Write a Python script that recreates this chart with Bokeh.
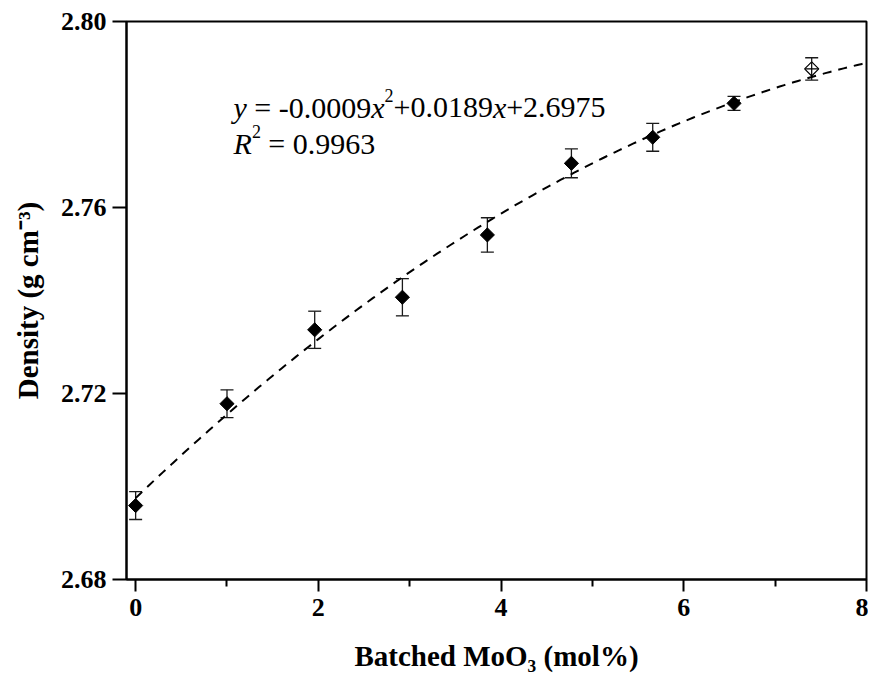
import numpy as np
from bokeh.plotting import figure
from bokeh.models import (ColumnDataSource, Whisker, TeeHead, FixedTicker,
                          NumeralTickFormatter, Label, Range1d)
from bokeh.embed import file_html
from bokeh.resources import INLINE

# ---- data ----
mo_batched = [0.00, 1.00, 1.96, 2.92, 3.85, 4.77, 5.66, 6.55, 7.40]
density = [2.6959, 2.7178, 2.7337, 2.7407, 2.7541, 2.7695, 2.7751, 2.7824, 2.7898]
density_err = [0.0030, 0.0030, 0.0040, 0.0040, 0.0037, 0.0031, 0.0030, 0.0015, 0.0024]
open_point = [False, False, False, False, False, False, False, False, True]

# fit shown on the chart
fit_a, fit_b, fit_c = -0.0009, 0.0189, 2.6975
x_ticks = [0, 2, 4, 6, 8]
x_minor = [1, 3, 5, 7]
y_ticks = [2.68, 2.72, 2.76, 2.80]

XMIN, XMAX = -0.1, 8.0
YMIN, YMAX = 2.68, 2.80

# pixel layout of the frame
FL, FR, FT, FB = 126, 866, 21, 579
W, H = 868, 680

def dx(px):
    return XMIN + (px - FL) / (FR - FL) * (XMAX - XMIN)

def dy(py):
    return YMAX - (py - FT) / (FB - FT) * (YMAX - YMIN)

p = figure(width=W, height=H, output_backend="svg", toolbar_location=None,
           x_range=Range1d(XMIN, XMAX), y_range=Range1d(YMIN, YMAX),
           min_border_left=FL, min_border_right=W - FR,
           min_border_top=FT, min_border_bottom=H - FB)
p.background_fill_color = "white"
p.border_fill_color = "white"
p.grid.visible = False
p.outline_line_color = "black"
p.outline_line_width = 2

serif = "Liberation Serif"
for ax in (p.xaxis[0], p.yaxis[0]):
    ax.axis_line_width = 2
    ax.major_tick_line_width = 2
    ax.minor_tick_line_width = 2
    ax.major_tick_in = 0
    ax.minor_tick_in = 0
    ax.major_label_text_font = serif
    ax.major_label_text_font_style = "bold"
    ax.major_label_text_font_size = "26px"
    ax.major_label_text_color = "black"
    ax.axis_label_text_font = serif
    ax.axis_label_text_font_style = "bold"
    ax.axis_label_text_font_size = "29px"
    ax.axis_label_text_color = "black"

p.xaxis.axis_label = "Batched MoO\u2083 (mol%)"
p.yaxis.axis_label = "Density (g cm\u207b\u00b3)"

p.xaxis.ticker = FixedTicker(ticks=x_ticks, minor_ticks=x_minor)
p.xaxis.major_tick_out = 12
p.xaxis.minor_tick_out = 7
p.xaxis.major_label_standoff = 7
p.xaxis.axis_label_standoff = 21

p.yaxis.ticker = FixedTicker(ticks=y_ticks, minor_ticks=[])
p.yaxis.formatter = NumeralTickFormatter(format="0.00")
p.yaxis.major_tick_out = 14
p.yaxis.minor_tick_out = 0
p.yaxis.major_label_standoff = 6
p.yaxis.axis_label_standoff = 14

# fit curve
xf = np.linspace(0, 8, 161)
yf = fit_a * xf ** 2 + fit_b * xf + fit_c
p.line(xf, yf, line_color="black", line_width=2, line_dash="9 7")

# error bars
src = ColumnDataSource(dict(
    x=mo_batched,
    upper=[d + e for d, e in zip(density, density_err)],
    lower=[d - e for d, e in zip(density, density_err)],
))
wh = Whisker(source=src, base="x", upper="upper", lower="lower", dimension="height",
             line_color="#1a1a1a", line_width=1.3, level="underlay",
             upper_head=TeeHead(size=13, line_color="#1a1a1a", line_width=1.3),
             lower_head=TeeHead(size=13, line_color="#1a1a1a", line_width=1.3))
p.add_layout(wh)

xs_f = [x for x, o in zip(mo_batched, open_point) if not o]
ys_f = [y for y, o in zip(density, open_point) if not o]
xs_o = [x for x, o in zip(mo_batched, open_point) if o]
ys_o = [y for y, o in zip(density, open_point) if o]

p.scatter(xs_f, ys_f, marker="square", angle=np.pi / 4, size=10,
          fill_color="black", line_color="black")
p.scatter(xs_o, ys_o, marker="square", angle=np.pi / 4, size=10,
          fill_color="white", line_color="black", line_width=1.2)
p.scatter(xs_o, ys_o, marker="cross", size=13, line_color="black", line_width=1.2)

def lab(text, px, py, size, style="normal"):
    p.add_layout(Label(x=dx(px), y=dy(py), text=text, text_font=serif,
                       text_font_size=f"{size}px", text_font_style=style,
                       text_color="black", text_align="left",
                       text_baseline="alphabetic"))

# equation
lab("y", 233, 107, 30, "italic")
lab("= -0.0009", 253.8, 107, 30)
lab("x", 370.7, 107, 30, "italic")
lab("2", 384, 95, 18)
lab("+0.0189", 393, 107, 30)
lab("x", 492.4, 107, 30, "italic")
lab("+2.6975", 505.7, 107, 30)
lab("R", 233, 143, 30, "italic")
lab("2", 251.5, 131, 18)
lab("= 0.9963", 267.8, 143, 30)

open("out.html", "w").write(file_html(p, INLINE))
